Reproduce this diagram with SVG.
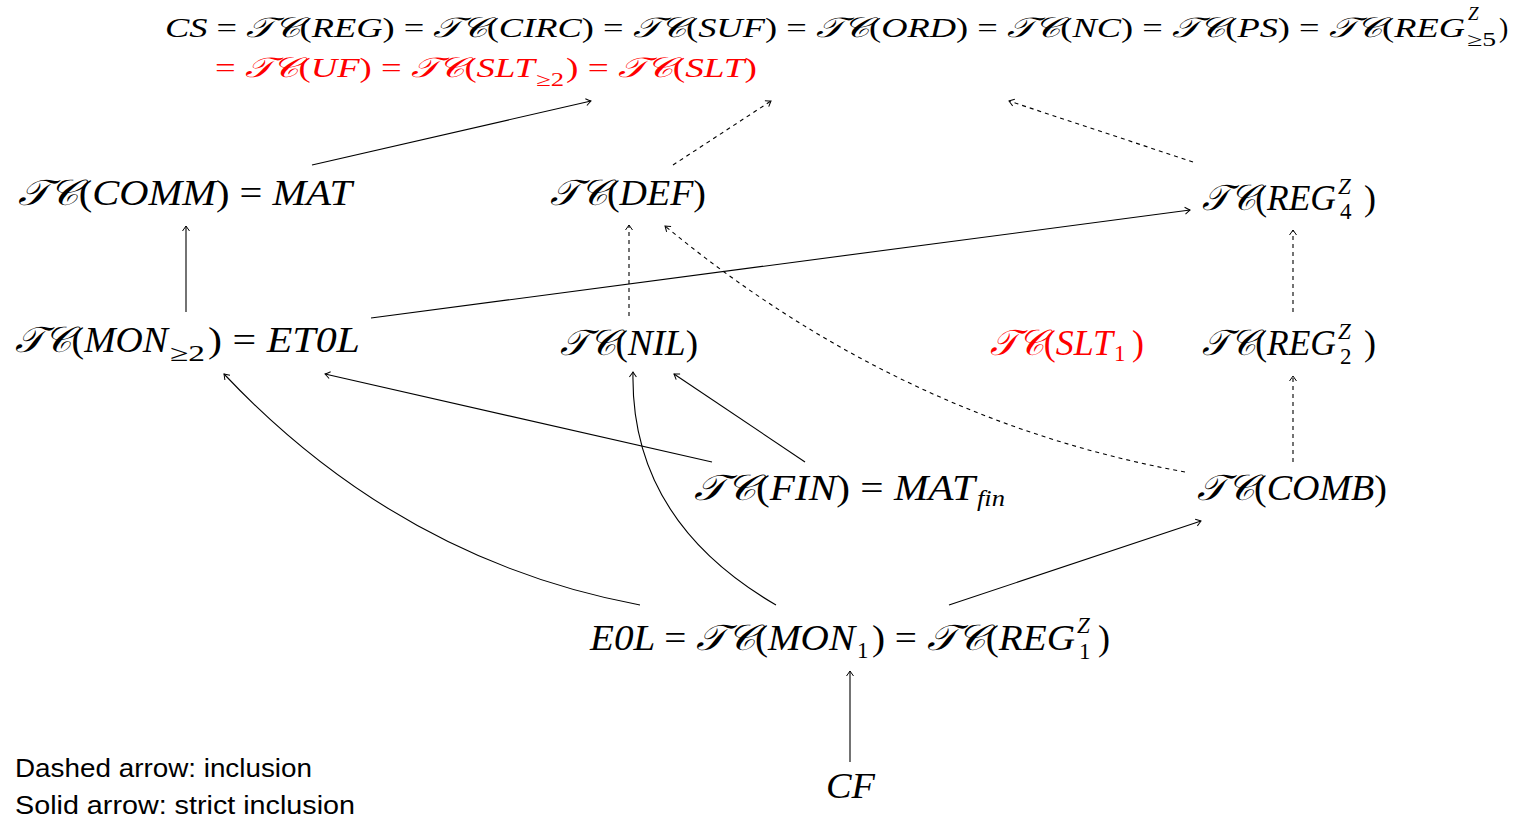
<svg xmlns="http://www.w3.org/2000/svg" width="1515" height="818" viewBox="0 0 1515 818">
<style>
.m{font-family:"Liberation Serif","DejaVu Serif",serif;font-style:italic;font-weight:normal;fill:#000}
.u{font-style:normal}
.r{fill:#ff0000}
.n{font-size:36px}
.t{font-size:28px}
.s{font-size:23px}
.ss{font-size:19px}
.lg{font-family:"Liberation Sans","DejaVu Sans",sans-serif;font-size:26px;fill:#000}
.c{fill:none;stroke:#000;stroke-width:1.1}
.d{stroke-dasharray:4 4}
</style>
<defs>
<marker id="ah" viewBox="-6 -5 8 10" markerWidth="8" markerHeight="10" refX="0" refY="0" orient="auto" markerUnits="userSpaceOnUse">
<path d="M-5,-3.5 Q-1.5,-1 0,0 Q-1.5,1 -5,3.5" fill="none" stroke="#000" stroke-width="1"/>
</marker>
</defs>
<rect width="1515" height="818" fill="#fff"/>

<g id="top">
<text class="m t" x="165" y="37" textLength="1300" lengthAdjust="spacingAndGlyphs">CS <tspan class="u">=</tspan> 𝒯𝒞<tspan class="u">(</tspan>REG<tspan class="u">)</tspan> <tspan class="u">=</tspan> 𝒯𝒞<tspan class="u">(</tspan>CIRC<tspan class="u">)</tspan> <tspan class="u">=</tspan> 𝒯𝒞<tspan class="u">(</tspan>SUF<tspan class="u">)</tspan> <tspan class="u">=</tspan> 𝒯𝒞<tspan class="u">(</tspan>ORD<tspan class="u">)</tspan> <tspan class="u">=</tspan> 𝒯𝒞<tspan class="u">(</tspan>NC<tspan class="u">)</tspan> <tspan class="u">=</tspan> 𝒯𝒞<tspan class="u">(</tspan>PS<tspan class="u">)</tspan> <tspan class="u">=</tspan> 𝒯𝒞<tspan class="u">(</tspan>REG</text>
<text class="m ss" x="1468" y="20">Z</text>
<text class="m ss u" x="1467" y="46" textLength="29" lengthAdjust="spacingAndGlyphs">≥5</text>
<text class="m t u" x="1499" y="37">)</text>
<text class="m t r" x="215" y="77" textLength="320" lengthAdjust="spacingAndGlyphs"><tspan class="u">=</tspan> 𝒯𝒞<tspan class="u">(</tspan>UF<tspan class="u">)</tspan> <tspan class="u">=</tspan> 𝒯𝒞<tspan class="u">(</tspan>SLT</text>
<text class="m ss u r" x="536" y="86" textLength="28" lengthAdjust="spacingAndGlyphs">≥2</text>
<text class="m t r" x="566" y="77" textLength="191" lengthAdjust="spacingAndGlyphs"><tspan class="u">)</tspan> <tspan class="u">=</tspan> 𝒯𝒞<tspan class="u">(</tspan>SLT<tspan class="u">)</tspan></text>
</g>

<g id="comm">
<text class="m n" x="18" y="205" textLength="334" lengthAdjust="spacingAndGlyphs">𝒯𝒞<tspan class="u">(</tspan>COMM<tspan class="u">)</tspan> <tspan class="u">=</tspan> MAT</text>
</g>
<g id="def">
<text class="m n" x="550" y="205" textLength="156" lengthAdjust="spacingAndGlyphs">𝒯𝒞<tspan class="u">(</tspan>DEF<tspan class="u">)</tspan></text>
</g>
<g id="reg4">
<text class="m n" x="1202" y="210" textLength="134" lengthAdjust="spacingAndGlyphs">𝒯𝒞<tspan class="u">(</tspan>REG</text>
<text class="m s" x="1338" y="194">Z</text>
<text class="m s u" x="1340" y="219">4</text>
<text class="m n u" x="1364" y="210">)</text>
</g>
<g id="mon2">
<text class="m n" x="15" y="352" textLength="153" lengthAdjust="spacingAndGlyphs">𝒯𝒞<tspan class="u">(</tspan>MON</text>
<text class="m s u" x="170" y="361" textLength="35" lengthAdjust="spacingAndGlyphs">≥2</text>
<text class="m n" x="208" y="352" textLength="152" lengthAdjust="spacingAndGlyphs"><tspan class="u">)</tspan> <tspan class="u">=</tspan> ET0L</text>
</g>
<g id="nil">
<text class="m n" x="560" y="355" textLength="138" lengthAdjust="spacingAndGlyphs">𝒯𝒞<tspan class="u">(</tspan>NIL<tspan class="u">)</tspan></text>
</g>
<g id="slt1">
<text class="m n r" x="990" y="355" textLength="123" lengthAdjust="spacingAndGlyphs">𝒯𝒞<tspan class="u">(</tspan>SLT</text>
<text class="m s u r" x="1114" y="361">1</text>
<text class="m n u r" x="1132" y="355">)</text>
</g>
<g id="reg2">
<text class="m n" x="1202" y="355" textLength="134" lengthAdjust="spacingAndGlyphs">𝒯𝒞<tspan class="u">(</tspan>REG</text>
<text class="m s" x="1338" y="339">Z</text>
<text class="m s u" x="1340" y="364">2</text>
<text class="m n u" x="1364" y="355">)</text>
</g>
<g id="fin">
<text class="m n" x="694" y="500" textLength="281" lengthAdjust="spacingAndGlyphs">𝒯𝒞<tspan class="u">(</tspan>FIN<tspan class="u">)</tspan> <tspan class="u">=</tspan> MAT</text>
<text class="m s" x="977" y="506" textLength="28" lengthAdjust="spacingAndGlyphs">fin</text>
</g>
<g id="comb">
<text class="m n" x="1197" y="500" textLength="190" lengthAdjust="spacingAndGlyphs">𝒯𝒞<tspan class="u">(</tspan>COMB<tspan class="u">)</tspan></text>
</g>
<g id="e0l">
<text class="m n" x="590" y="650" textLength="265" lengthAdjust="spacingAndGlyphs">E0L <tspan class="u">=</tspan> 𝒯𝒞<tspan class="u">(</tspan>MON</text>
<text class="m s u" x="857" y="658">1</text>
<text class="m n" x="872" y="650" textLength="203" lengthAdjust="spacingAndGlyphs"><tspan class="u">)</tspan> <tspan class="u">=</tspan> 𝒯𝒞<tspan class="u">(</tspan>REG</text>
<text class="m s" x="1077" y="633">Z</text>
<text class="m s u" x="1079" y="659">1</text>
<text class="m n u" x="1098" y="650">)</text>
</g>
<g id="cf">
<text class="m n" x="826" y="798" textLength="49" lengthAdjust="spacingAndGlyphs">CF</text>
</g>
<g id="legend">
<text class="lg" x="15" y="777" textLength="297" lengthAdjust="spacingAndGlyphs">Dashed arrow: inclusion</text>
<text class="lg" x="15" y="814" textLength="340" lengthAdjust="spacingAndGlyphs">Solid arrow: strict inclusion</text>
</g>

<g id="connectors">
<path class="c" d="M312,165 L591,101" marker-end="url(#ah)"/>
<path class="c d" d="M673,165 L771,101" marker-end="url(#ah)"/>
<path class="c d" d="M1193,162 L1009,101" marker-end="url(#ah)"/>
<path class="c" d="M186,312 L186,226" marker-end="url(#ah)"/>
<path class="c" d="M371,318 L1190,210" marker-end="url(#ah)"/>
<path class="c d" d="M629,316 L629,225" marker-end="url(#ah)"/>
<path class="c d" d="M1293,312 L1293,230" marker-end="url(#ah)"/>
<path class="c d" d="M1185,472 Q900,420 665,226" marker-end="url(#ah)"/>
<path class="c d" d="M1293,462 L1293,376" marker-end="url(#ah)"/>
<path class="c" d="M712,462 L325,374" marker-end="url(#ah)"/>
<path class="c" d="M805,462 L674,374" marker-end="url(#ah)"/>
<path class="c" d="M640,605 Q400,560 224,374" marker-end="url(#ah)"/>
<path class="c" d="M776,605 Q630,520 633,372" marker-end="url(#ah)"/>
<path class="c" d="M949,605 L1201,521" marker-end="url(#ah)"/>
<path class="c" d="M850,762 L850,671" marker-end="url(#ah)"/>
</g>
</svg>
